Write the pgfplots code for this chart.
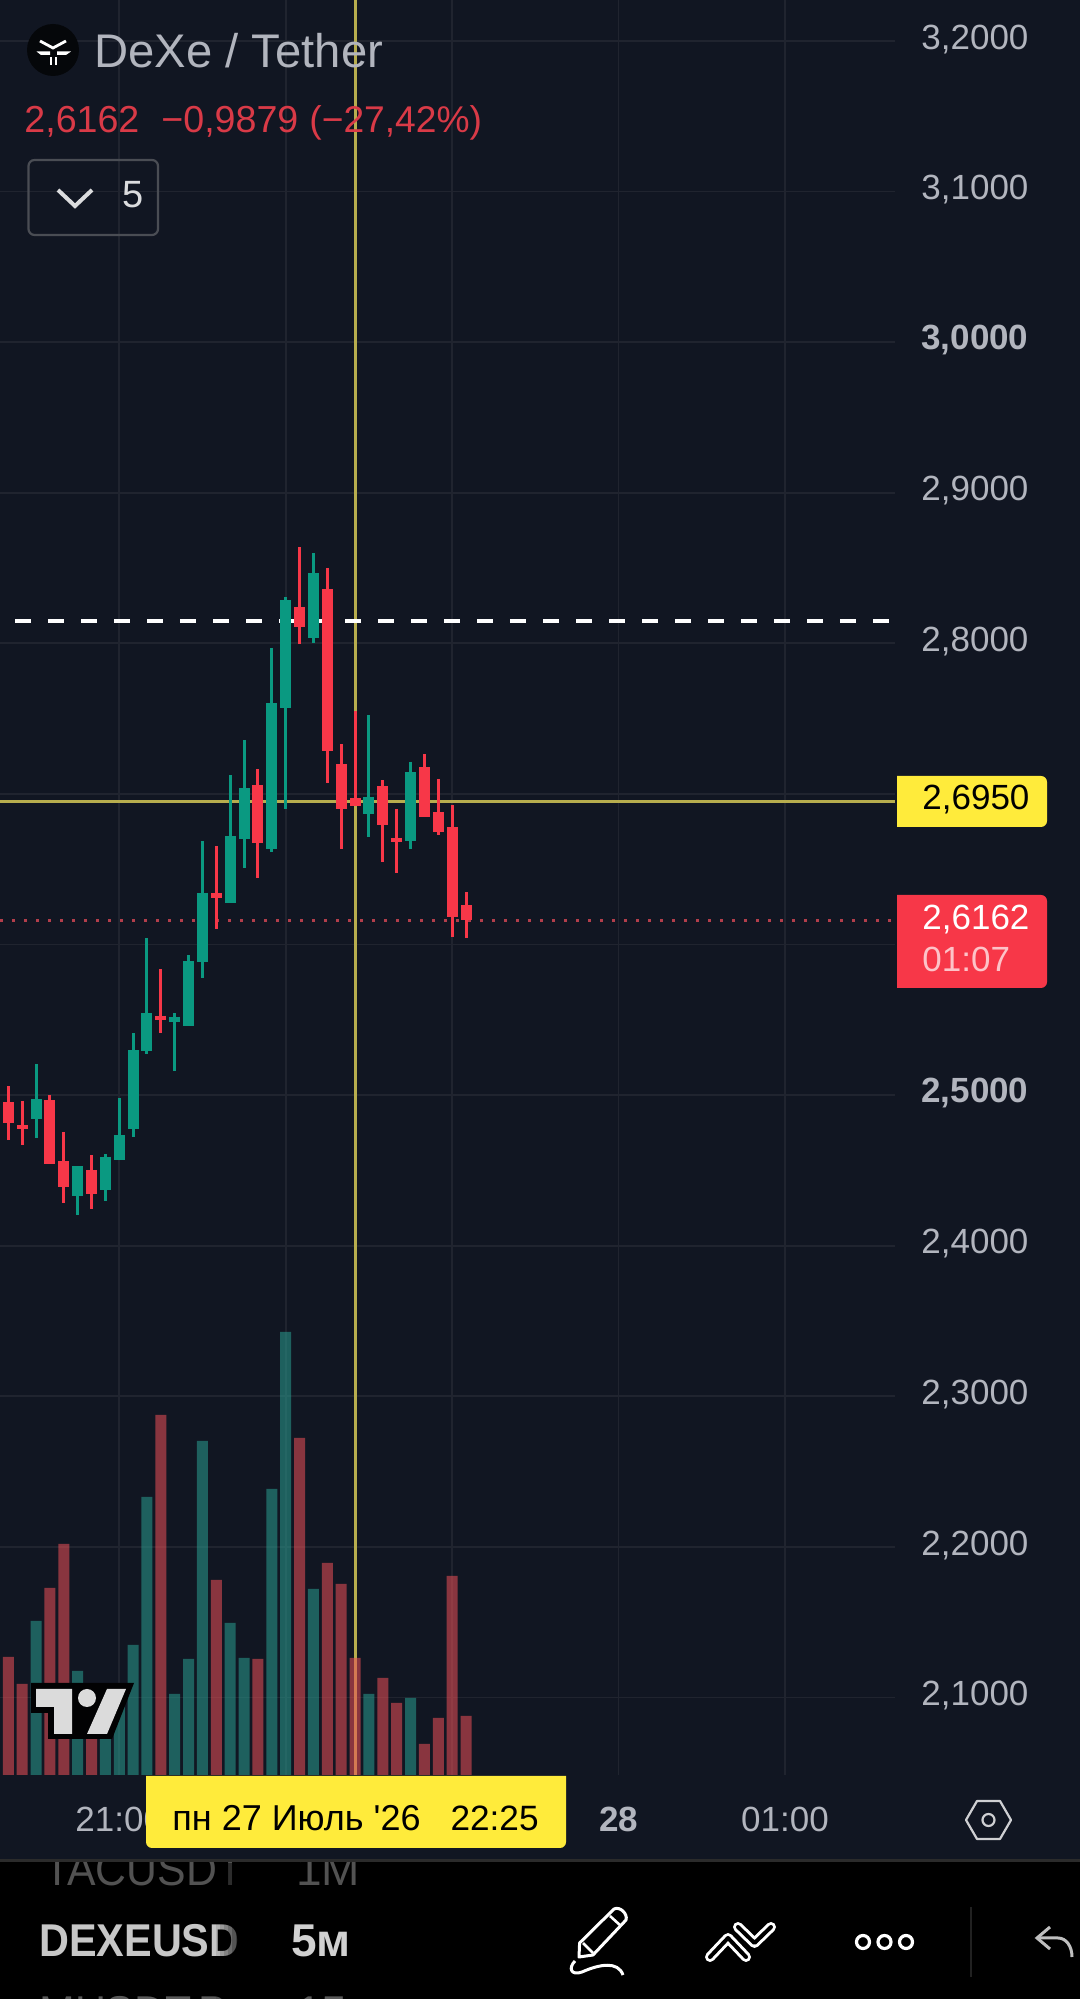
\documentclass[border=0pt]{standalone}
\usepackage{pgfplots}
\pgfplotsset{compat=1.18}
\usepackage{pgfplotstable}
\usepackage{fontspec}
\setmainfont{Liberation Sans}
\newfontfamily\plainfont{Liberation Sans}
\definecolor{bg}{HTML}{111622}
\definecolor{gridc}{HTML}{20242F}
\definecolor{cg}{HTML}{0A9981}
\definecolor{cr}{HTML}{F73748}
\definecolor{vg}{HTML}{2A9D91}
\definecolor{vr}{HTML}{ED5057}
\definecolor{cross}{HTML}{B7AD4E}
\definecolor{lab}{HTML}{B2B5BE}
\definecolor{ylw}{HTML}{FFEB3B}
\definecolor{txtred}{HTML}{D93A47}
\definecolor{dotred}{HTML}{B23E4B}
\newcommand{\fs}[1]{\fontsize{#1pt}{#1pt}\selectfont}

\pgfplotstableread{
i hi top bot lo
2 2.5207 2.4974 2.4841 2.4715
5 2.4529 2.4529 2.4330 2.4204
7 2.4609 2.4591 2.4370 2.4297
8 2.4981 2.4735 2.4569 2.4569
9 2.5410 2.5299 2.4775 2.4722
10 2.6043 2.5545 2.5293 2.5273
12 2.5545 2.5521 2.5485 2.5160
13 2.5930 2.5890 2.5459 2.5459
14 2.6687 2.6342 2.5884 2.5778
16 2.7125 2.6720 2.6275 2.6275
17 2.7358 2.7039 2.6700 2.6508
19 2.7969 2.7603 2.6636 2.6614
20 2.8307 2.8287 2.7570 2.6900
22 2.8600 2.8467 2.8035 2.8002
26 2.7524 2.6979 2.6866 2.6714
29 2.7212 2.7145 2.6687 2.6634
}\greencandles
\pgfplotstableread{
i hi top bot lo
0 2.5060 2.4954 2.4817 2.4702
1 2.4961 2.4801 2.4773 2.4669
3 2.5001 2.4968 2.4543 2.4543
4 2.4755 2.4562 2.4392 2.4281
6 2.4602 2.4503 2.4343 2.4244
11 2.5837 2.5527 2.5499 2.5412
15 2.6654 2.6342 2.6309 2.6103
18 2.7165 2.7059 2.6674 2.6442
21 2.8639 2.8241 2.8108 2.7995
23 2.8500 2.8361 2.7285 2.7072
24 2.7331 2.7199 2.6900 2.6634
25 2.7550 2.6973 2.6920 2.6920
27 2.7092 2.7052 2.6793 2.6548
28 2.6900 2.6709 2.6681 2.6475
30 2.7265 2.7179 2.6844 2.6844
31 2.7099 2.6880 2.6747 2.6727
32 2.6926 2.6780 2.6185 2.6050
33 2.6349 2.6262 2.6162 2.6043
}\redcandles
\pgfplotstableread{
i v
2 154
5 104
7 75
8 85
9 130
10 278
12 81
13 116
14 334
16 152
17 117
19 286
20 443
22 186
26 81
29 77
}\greenvol
\pgfplotstableread{
i v
0 118
1 91
3 187
4 231
6 60
11 360
15 195
18 116
21 337
23 212
24 191
25 117
27 97
28 72
30 31
31 57
32 199
33 59
}\redvol

\pgfplotsset{
  base/.style={
    scale only axis, width=447.5pt, height=887.5pt,
    at={(0pt,112pt)}, anchor=south west,
    xmin=-0.598, xmax=63.93,
    axis line style={draw=none}, major tick length=0pt,
    tick style={draw=none},
  },
  price/.style={base, ymin=2.04854, ymax=3.22716},
}
\begin{document}
\begin{tikzpicture}
\path[use as bounding box] (0,0) rectangle (540pt,999.5pt);
\fill[bg] (0,0) rectangle (540pt,999.5pt);

% grid, tick labels, crosshair
\begin{axis}[price,
  xtick={8,20,32,44,56},
  xticklabels={21:00,22:00,23:00,{\bfseries 28},01:00},
  ytick={2.1,2.2,2.3,2.4,2.5,2.6,2.7,2.8,2.9,3.0,3.1,3.2},
  yticklabels={{2,1000},{2,2000},{2,3000},{2,4000},{\bfseries 2,5000},{2,6000},{2,7000},{2,8000},{2,9000},{\bfseries 3,0000},{3,1000},{3,2000}},
  yticklabel pos=right,
  grid=major,
  grid style={gridc, line width=0.9pt},
  yticklabel style={anchor=west, inner sep=0pt, xshift=13pt, yshift=0.9pt, text=lab, font=\fs{17.5}},
  xticklabel style={anchor=center, inner sep=0pt, yshift=-22pt, text=lab, font=\fs{17.5}},
]
\addplot[cross, line width=1.5pt] coordinates {(25,2.04854) (25,3.22716)};
\addplot[cross, line width=1.5pt] coordinates {(-0.598,2.695) (63.93,2.695)};
\end{axis}

% volume
\begin{axis}[base, ymin=0, ymax=1775, axis lines=none, ybar, bar width=5.5pt, bar shift=0pt]
\addplot[fill=vg, draw=none, opacity=0.55] table[x=i,y=v] {\greenvol};
\addplot[fill=vr, draw=none, opacity=0.55] table[x=i,y=v] {\redvol};
\end{axis}

% candles
\begin{axis}[price, axis lines=none]
\addplot[white, line width=1.6pt, dash pattern=on 7.85pt off 8.65pt] coordinates {(0.5,2.8148) (63.7,2.8148)};
\addplot[dotred, line width=1.5pt, dash pattern=on 1.5pt off 4.5pt] coordinates {(-0.598,2.6162) (63.8,2.6162)};
\addplot[draw=none, error bars/.cd, y dir=minus, y explicit, error mark=none, error bar style={line width=1.5pt, cg}]
  table[x=i, y=hi, y error minus expr=\thisrow{hi}-\thisrow{lo}] {\greencandles};
\addplot[draw=none, error bars/.cd, y dir=minus, y explicit, error mark=none, error bar style={line width=5.5pt, cg}]
  table[x=i, y=top, y error minus expr=\thisrow{top}-\thisrow{bot}] {\greencandles};
\addplot[draw=none, error bars/.cd, y dir=minus, y explicit, error mark=none, error bar style={line width=1.5pt, cr}]
  table[x=i, y=hi, y error minus expr=\thisrow{hi}-\thisrow{lo}] {\redcandles};
\addplot[draw=none, error bars/.cd, y dir=minus, y explicit, error mark=none, error bar style={line width=5.5pt, cr}]
  table[x=i, y=top, y error minus expr=\thisrow{top}-\thisrow{bot}] {\redcandles};
\end{axis}

% decoration, in image pixels
\begin{scope}[x=0.5pt, y=-0.5pt, yshift=999.5pt]
% logo and header
\fill[black!70!bg] (53,50) circle (26);
\draw[white, line width=1.4pt, line join=miter] (40,41) -- (53,48) -- (66,41);
\fill[white] (36.5,51.5) -- (50,51.5) -- (50,55) -- (41,55) -- cycle;
\fill[white] (71,51.5) -- (57,51.5) -- (57,55) -- (66,55) -- cycle;
\fill[white] (49.5,57) rectangle (51.5,65);
\fill[white] (54.5,57) rectangle (56.5,65);
\node[anchor=base west, inner sep=0pt, text=lab, font=\fs{23.6}] at (94,68) {DeXe / Tether};
\node[anchor=base west, inner sep=0pt, text=txtred, font=\fs{18.8}] at (24,133) {2,6162};
\node[anchor=base west, inner sep=0pt, text=txtred, font=\fs{18.8}] at (161,133) {−0,9879};
\node[anchor=base west, inner sep=0pt, text=txtred, font=\fs{18.6}] at (309,133) {(−27,42\%)};
\draw[black!20!bg!75!white, line width=1.1pt, rounded corners=3pt] (28.5,160) rectangle (158,235);
\draw[white!85!bg, line width=2pt] (58,190) -- (75,206) -- (92,190);
\node[anchor=base west, inner sep=0pt, text=white!85!bg, font=\fs{19}] at (122,208) {5};

% price labels
\fill[ylw] (897,827) [sharp corners] -- (897,776) [rounded corners=3pt] -- (1047,776) -- (1047,827) [sharp corners] -- cycle;
\node[anchor=base west, inner sep=0pt, text=black, font=\fs{17.5}] at (922,810) {2,6950};
\fill[cr] (897,988) [sharp corners] -- (897,895) [rounded corners=3pt] -- (1047,895) -- (1047,988) [sharp corners] -- cycle;
\node[anchor=base west, inner sep=0pt, text=white, font=\fs{17.5}] at (922,930) {2,6162};
\node[anchor=base west, inner sep=0pt, text=white!70!cr, font=\fs{17.5}] at (922,972) {01:07};

% TV logo
\fill[black!90!bg] (31,1683) -- (134,1683) -- (112,1739) -- (48,1739) -- (48,1713) -- (31,1713) -- cycle;
\fill[white!86!black] (36,1689) -- (72,1689) -- (72,1734) -- (54,1734) -- (54,1707) -- (36,1707) -- cycle;
\fill[white!86!black] (87,1698) circle (9);
\fill[white!86!black] (107,1689) -- (126,1689) -- (107,1734) -- (87,1734) -- cycle;

% crosshair time label
\fill[ylw] (146,1776) [rounded corners=0pt] -- (566,1776) [rounded corners=3pt] -- (566,1848) -- (146,1848) [sharp corners] -- cycle;
\node[anchor=base west, inner sep=0pt, text=black, font=\plainfont\fs{18}] at (172,1831) {пн 27 Июль '26};
\node[anchor=base east, inner sep=0pt, text=black, font=\fs{17.6}] at (539,1831) {22:25};

% settings hexagon
\draw[white!80!bg, line width=1.1pt, line join=round] (977,1801) -- (1000,1801) -- (1011,1820) -- (1000,1839) -- (977,1839) -- (966,1820) -- cycle;
\draw[white!80!bg, line width=1.1pt] (988.5,1820) circle (6);

% bottom toolbar
\fill[black] (0,1862) rectangle (1080,1999);
\fill[white!17!black] (0,1859.5) rectangle (1080,1862);
\begin{scope}
\clip (0,1863) rectangle (1080,1999);
\node[anchor=base west, inner sep=0pt, xscale=0.93, text=white!32!black, font=\fs{23}] at (44,1886) {TACUSDT};
\node[anchor=base west, inner sep=0pt, text=white!32!black, font=\fs{23}] at (296,1886) {1M};
\node[anchor=base west, inner sep=0pt, xscale=0.9, text=white!78!black, font=\bfseries\fs{23}] at (39,1957) {DEXEUSD};
\node[anchor=base west, inner sep=0pt, text=white!82!black, font=\bfseries\fs{23}] at (291,1957) {5м};
\node[anchor=base west, inner sep=0pt, xscale=0.93, text=white!35!black, font=\fs{23}] at (39,2029) {MUSDT.P};
\node[anchor=base west, inner sep=0pt, text=white!35!black, font=\fs{23}] at (296,2029) {15};
\fill[black] (240,1863) rectangle (285,1999);
\foreach \k in {0,...,5}{
  \fill[black, opacity=0.12*\k+0.1] ({216+4*\k},1863) rectangle ({220+4*\k},1999);
}
\end{scope}
% pencil
\draw[white, line width=1.5pt, line join=round] (579,1957) -- (579.6,1943) -- (614,1909) .. controls (620,1906) and (628,1914) .. (626,1920) -- (593,1955) -- cycle;
\draw[white, line width=1.3pt] (610,1916) -- (621,1926);
\draw[white, line width=1.3pt] (583,1943) -- (593,1953);
\draw[white, line width=1.5pt] (575,1961) .. controls (568,1968) and (571,1976) .. (582,1972) .. controls (600,1964) and (618,1961) .. (623,1975);
% chevrons
\draw[white, line width=5pt, line cap=round, line join=round] (710,1957) -- (728,1938) -- (746,1957);
\draw[black, line width=2pt, line cap=round, line join=round] (710,1957) -- (728,1938) -- (746,1957);
\draw[white, line width=5pt, line cap=round, line join=round] (738,1927) -- (754.5,1943) -- (771,1927);
\draw[black, line width=2pt, line cap=round, line join=round] (738,1927) -- (754.5,1943) -- (771,1927);
% dots
\draw[white, line width=1.6pt] (863,1942) circle (6.5);
\draw[white, line width=1.6pt] (884.5,1942) circle (6.5);
\draw[white, line width=1.6pt] (906,1942) circle (6.5);
\fill[white!13!black] (969.5,1907) rectangle (972,1977);
% undo arrow
\draw[white!75!black, line width=1.5pt] (1050,1927) -- (1037,1938) -- (1050,1949);
\draw[white!75!black, line width=1.5pt] (1037,1938) -- (1058,1938) .. controls (1066,1938) and (1072,1946) .. (1072,1957);
\end{scope}
\end{tikzpicture}
\end{document}
